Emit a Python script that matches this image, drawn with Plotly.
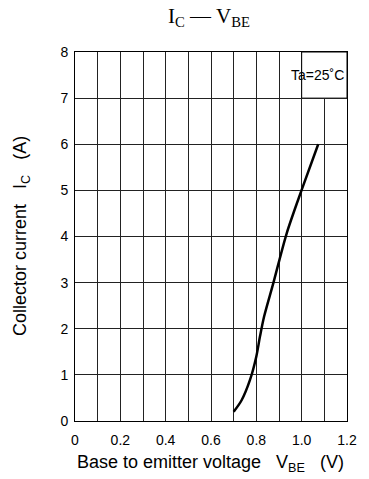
import plotly.graph_objects as go

vbe = [0.70, 0.735, 0.772, 0.80, 0.816, 0.834, 0.875, 0.934, 1.00, 1.073]
ic = [0.20, 0.45, 0.89, 1.40, 1.83, 2.26, 2.99, 4.07, 5.01, 6.00]

x_ticks = [0, 0.2, 0.4, 0.6, 0.8, 1.0, 1.2]
x_tick_text = ["0", "0.2", "0.4", "0.6", "0.8", "1.0", "1.2"]
y_ticks = [0, 1, 2, 3, 4, 5, 6, 7, 8]
legend_text = "Ta=25˚C"

SANS = "Liberation Sans, Arial, Helvetica"
SERIF = "Liberation Serif, Times New Roman"

fig = go.Figure()
fig.add_trace(go.Scatter(x=vbe, y=ic, mode="lines",
                         line=dict(color="black", width=2.5, shape="spline", smoothing=0.8),
                         showlegend=False, hoverinfo="skip"))

# legend-like box
fig.add_shape(type="rect", xref="x", yref="y", x0=1.0, x1=1.2, y0=7, y1=8,
              fillcolor="white", line=dict(color="black", width=1), layer="above")
fig.add_annotation(x=1.072, y=7.5, xref="x", yref="y", text=legend_text, showarrow=False,
                   font=dict(family=SANS, size=14, color="black"))

axis_common = dict(showgrid=True, gridcolor="#222", gridwidth=1, zeroline=False,
                   showline=True, linecolor="black", linewidth=1, mirror=True,
                   ticks="outside", tickcolor="rgba(0,0,0,0)", automargin=False,
                   tickfont=dict(family=SANS, size=14, color="black"))

fig.update_xaxes(range=[0, 1.2], tickvals=[i / 10 for i in range(13)],
                 ticktext=[x_tick_text[i // 2] if i % 2 == 0 else "" for i in range(13)],
                 ticklen=6, **axis_common)
fig.update_yaxes(range=[0, 8], tickvals=y_ticks, ticklen=3, **axis_common)

# axis titles
fig.add_annotation(x=(210 - 75) / 272, y=(421 - 463) / 369, xref="paper", yref="paper",
                   text="Base to emitter voltage&nbsp;&nbsp;&nbsp;V<sub>BE</sub>&nbsp;&nbsp;&nbsp;(V)",
                   showarrow=False, xanchor="center", yanchor="middle",
                   font=dict(family=SANS, size=18, color="black"))
fig.add_annotation(x=(21.5 - 75) / 272, y=0.5, xref="paper", yref="paper",
                   text="Collector current&nbsp;&nbsp;&nbsp;I<sub>C</sub>&nbsp;&nbsp;&nbsp;(A)",
                   showarrow=False, xanchor="center", yanchor="middle", textangle=-90,
                   font=dict(family=SANS, size=18, color="black"))

fig.update_layout(
    width=369, height=479,
    margin=dict(l=75, r=22, t=52, b=58),
    paper_bgcolor="white", plot_bgcolor="white",
    title=dict(text="I<sub>C</sub> — V<sub>BE</sub>", x=209 / 369, xanchor="center",
               y=1 - 8 / 479, yanchor="top",
               font=dict(family=SERIF, size=21, color="black")),
)

fig.write_html("out.html", config={"displayModeBar": False},
               post_script="document.body.style.margin='0';document.body.style.overflow='hidden';")
